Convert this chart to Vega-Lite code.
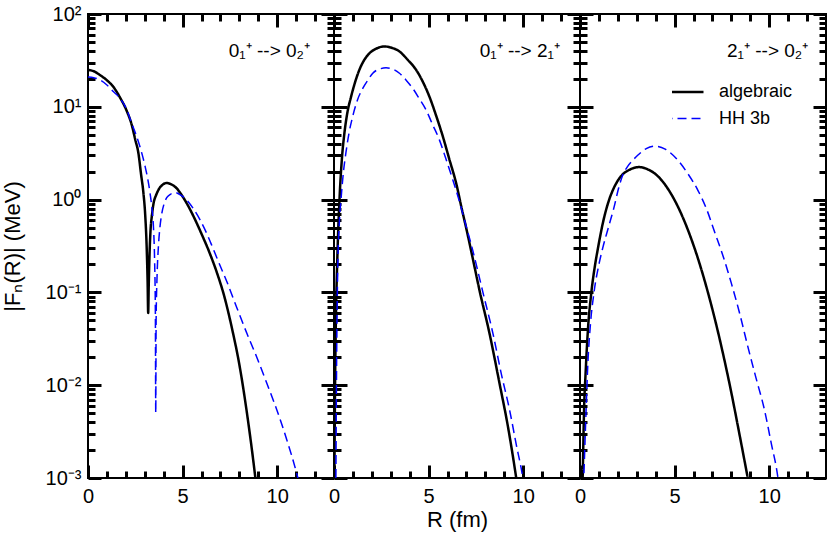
{
"$schema": "https://vega.github.io/schema/vega-lite/v6.json",
"padding": {"left": 0, "top": 3, "right": 2, "bottom": 5},
"background": "white",
"spacing": 0,
"bounds": "flush",
"config": {
  "view": {"stroke": "black", "strokeWidth": 2},
  "axis": {"grid": false, "domain": false, "labelColor": "black", "labelFont": "Liberation Sans", "labelFontSize": 20, "titleFont": "Liberation Sans", "titleFontSize": 22, "titleFontWeight": "normal", "titleColor": "black"},
  "legend": {"orient": "none", "legendX": 584, "legendY": 68, "symbolType": "M-2,0H2", "symbolSize": 400, "clipHeight": 20, "labelFont": "Liberation Sans", "labelFontSize": 18, "labelColor": "black", "rowPadding": 6.6, "labelOffset": 24, "padding": 0}
},
"datasets": {
  "p1": [
    {"s":"algebraic","R":0,"F":25},{"s":"algebraic","R":0.3,"F":24.2},{"s":"algebraic","R":0.63,"F":22},{"s":"algebraic","R":1.0,"F":19.3},{"s":"algebraic","R":1.34,"F":16.4},{"s":"algebraic","R":1.7,"F":12.5},{"s":"algebraic","R":2.05,"F":9.0},{"s":"algebraic","R":2.31,"F":6.4},{"s":"algebraic","R":2.5,"F":4.4},{"s":"algebraic","R":2.66,"F":3.2},{"s":"algebraic","R":2.8,"F":1.9},{"s":"algebraic","R":2.93,"F":1.17},{"s":"algebraic","R":3.02,"F":0.7},{"s":"algebraic","R":3.1,"F":0.31},{"s":"algebraic","R":3.15,"F":0.13},{"s":"algebraic","R":3.18,"F":0.06},{"s":"algebraic","R":3.21,"F":0.12},{"s":"algebraic","R":3.25,"F":0.25},{"s":"algebraic","R":3.3,"F":0.45},{"s":"algebraic","R":3.38,"F":0.68},{"s":"algebraic","R":3.46,"F":0.9},{"s":"algebraic","R":3.6,"F":1.12},{"s":"algebraic","R":3.72,"F":1.27},{"s":"algebraic","R":3.95,"F":1.45},{"s":"algebraic","R":4.15,"F":1.51},{"s":"algebraic","R":4.4,"F":1.46},{"s":"algebraic","R":4.69,"F":1.32},{"s":"algebraic","R":4.95,"F":1.12},{"s":"algebraic","R":5.22,"F":0.91},{"s":"algebraic","R":5.6,"F":0.645},{"s":"algebraic","R":6.0,"F":0.427},{"s":"algebraic","R":6.4,"F":0.275},{"s":"algebraic","R":6.8,"F":0.166},{"s":"algebraic","R":7.2,"F":0.091},{"s":"algebraic","R":7.6,"F":0.0417},{"s":"algebraic","R":8.0,"F":0.0166},{"s":"algebraic","R":8.4,"F":0.005},{"s":"algebraic","R":8.84,"F":0.00102},{"s":"algebraic","R":8.9,"F":0.0008},
    {"s":"HH 3b","R":0,"F":21},{"s":"HH 3b","R":0.3,"F":20.6},{"s":"HH 3b","R":0.63,"F":19.5},{"s":"HH 3b","R":1.0,"F":17.2},{"s":"HH 3b","R":1.34,"F":14.6},{"s":"HH 3b","R":1.7,"F":12.3},{"s":"HH 3b","R":2.05,"F":9.3},{"s":"HH 3b","R":2.3,"F":6.7},{"s":"HH 3b","R":2.57,"F":4.8},{"s":"HH 3b","R":2.8,"F":3.4},{"s":"HH 3b","R":3.02,"F":2.27},{"s":"HH 3b","R":3.15,"F":1.7},{"s":"HH 3b","R":3.28,"F":1.17},{"s":"HH 3b","R":3.38,"F":0.8},{"s":"HH 3b","R":3.46,"F":0.5},{"s":"HH 3b","R":3.52,"F":0.22},{"s":"HH 3b","R":3.56,"F":0.06},{"s":"HH 3b","R":3.58,"F":0.005},{"s":"HH 3b","R":3.6,"F":0.05},{"s":"HH 3b","R":3.65,"F":0.15},{"s":"HH 3b","R":3.72,"F":0.31},{"s":"HH 3b","R":3.8,"F":0.5},{"s":"HH 3b","R":3.9,"F":0.71},{"s":"HH 3b","R":4.02,"F":0.9},{"s":"HH 3b","R":4.16,"F":1.05},{"s":"HH 3b","R":4.35,"F":1.14},{"s":"HH 3b","R":4.6,"F":1.19},{"s":"HH 3b","R":4.9,"F":1.12},{"s":"HH 3b","R":5.22,"F":0.99},{"s":"HH 3b","R":5.6,"F":0.78},{"s":"HH 3b","R":5.93,"F":0.6},{"s":"HH 3b","R":6.3,"F":0.42},{"s":"HH 3b","R":6.63,"F":0.29},{"s":"HH 3b","R":7.0,"F":0.19},{"s":"HH 3b","R":7.34,"F":0.13},{"s":"HH 3b","R":7.87,"F":0.068},{"s":"HH 3b","R":8.4,"F":0.036},{"s":"HH 3b","R":8.92,"F":0.02},{"s":"HH 3b","R":9.45,"F":0.0105},{"s":"HH 3b","R":9.98,"F":0.0054},{"s":"HH 3b","R":10.5,"F":0.0026},{"s":"HH 3b","R":11.04,"F":0.0011},{"s":"HH 3b","R":11.15,"F":0.0009}
  ],
  "p2": [
    {"s":"algebraic","R":0.02,"F":0.001},{"s":"algebraic","R":0.06,"F":0.012},{"s":"algebraic","R":0.1,"F":0.05},{"s":"algebraic","R":0.18,"F":0.25},{"s":"algebraic","R":0.3,"F":1.1},{"s":"algebraic","R":0.42,"F":2.8},{"s":"algebraic","R":0.55,"F":5.2},{"s":"algebraic","R":0.7,"F":8.5},{"s":"algebraic","R":0.9,"F":12.8},{"s":"algebraic","R":1.1,"F":18},{"s":"algebraic","R":1.34,"F":25},{"s":"algebraic","R":1.6,"F":32},{"s":"algebraic","R":1.87,"F":37.7},{"s":"algebraic","R":2.2,"F":42},{"s":"algebraic","R":2.66,"F":44.7},{"s":"algebraic","R":3.0,"F":43.5},{"s":"algebraic","R":3.46,"F":39.5},{"s":"algebraic","R":3.9,"F":32},{"s":"algebraic","R":4.34,"F":25},{"s":"algebraic","R":4.7,"F":18.5},{"s":"algebraic","R":5.04,"F":12.9},{"s":"algebraic","R":5.4,"F":8},{"s":"algebraic","R":5.75,"F":4.8},{"s":"algebraic","R":6.1,"F":2.7},{"s":"algebraic","R":6.46,"F":1.49},{"s":"algebraic","R":6.75,"F":0.8},{"s":"algebraic","R":6.98,"F":0.5},{"s":"algebraic","R":7.3,"F":0.25},{"s":"algebraic","R":7.69,"F":0.105},{"s":"algebraic","R":8.22,"F":0.036},{"s":"algebraic","R":8.75,"F":0.0104},{"s":"algebraic","R":9.19,"F":0.0036},{"s":"algebraic","R":9.63,"F":0.001},{"s":"algebraic","R":9.7,"F":0.0008},
    {"s":"HH 3b","R":0.1,"F":0.001},{"s":"HH 3b","R":0.14,"F":0.02},{"s":"HH 3b","R":0.19,"F":0.15},{"s":"HH 3b","R":0.28,"F":0.55},{"s":"HH 3b","R":0.37,"F":1.0},{"s":"HH 3b","R":0.5,"F":2.0},{"s":"HH 3b","R":0.63,"F":3.2},{"s":"HH 3b","R":0.8,"F":5.3},{"s":"HH 3b","R":0.99,"F":7.9},{"s":"HH 3b","R":1.25,"F":12},{"s":"HH 3b","R":1.52,"F":15.8},{"s":"HH 3b","R":1.8,"F":19.5},{"s":"HH 3b","R":2.05,"F":23},{"s":"HH 3b","R":2.4,"F":25.5},{"s":"HH 3b","R":2.75,"F":26.3},{"s":"HH 3b","R":3.1,"F":25.5},{"s":"HH 3b","R":3.46,"F":23},{"s":"HH 3b","R":3.8,"F":19.5},{"s":"HH 3b","R":4.16,"F":15.8},{"s":"HH 3b","R":4.5,"F":12.3},{"s":"HH 3b","R":4.87,"F":9.2},{"s":"HH 3b","R":5.2,"F":6.5},{"s":"HH 3b","R":5.57,"F":4.4},{"s":"HH 3b","R":5.9,"F":2.8},{"s":"HH 3b","R":6.28,"F":1.63},{"s":"HH 3b","R":6.6,"F":1.0},{"s":"HH 3b","R":6.98,"F":0.52},{"s":"HH 3b","R":7.34,"F":0.28},{"s":"HH 3b","R":7.6,"F":0.17},{"s":"HH 3b","R":7.87,"F":0.1},{"s":"HH 3b","R":8.4,"F":0.036},{"s":"HH 3b","R":8.85,"F":0.013},{"s":"HH 3b","R":9.28,"F":0.0054},{"s":"HH 3b","R":9.63,"F":0.0023},{"s":"HH 3b","R":9.98,"F":0.001},{"s":"HH 3b","R":10.05,"F":0.0008}
  ],
  "p3": [
    {"s":"algebraic","R":0.12,"F":0.0008},{"s":"algebraic","R":0.14,"F":0.001},{"s":"algebraic","R":0.17,"F":0.002},{"s":"algebraic","R":0.21,"F":0.005},{"s":"algebraic","R":0.3,"F":0.014},{"s":"algebraic","R":0.42,"F":0.04},{"s":"algebraic","R":0.6,"F":0.1},{"s":"algebraic","R":0.8,"F":0.2},{"s":"algebraic","R":0.95,"F":0.3},{"s":"algebraic","R":1.2,"F":0.55},{"s":"algebraic","R":1.47,"F":0.9},{"s":"algebraic","R":1.8,"F":1.35},{"s":"algebraic","R":2.17,"F":1.79},{"s":"algebraic","R":2.6,"F":2.09},{"s":"algebraic","R":3.14,"F":2.24},{"s":"algebraic","R":3.6,"F":2.11},{"s":"algebraic","R":4.11,"F":1.79},{"s":"algebraic","R":4.6,"F":1.35},{"s":"algebraic","R":5.17,"F":0.843},{"s":"algebraic","R":5.7,"F":0.473},{"s":"algebraic","R":6.23,"F":0.233},{"s":"algebraic","R":6.76,"F":0.1},{"s":"algebraic","R":7.15,"F":0.0494},{"s":"algebraic","R":7.55,"F":0.0222},{"s":"algebraic","R":8.0,"F":0.00826},{"s":"algebraic","R":8.4,"F":0.00316},{"s":"algebraic","R":8.9,"F":0.00092},
    {"s":"HH 3b","R":0.18,"F":0.0008},{"s":"HH 3b","R":0.2,"F":0.001},{"s":"HH 3b","R":0.25,"F":0.002},{"s":"HH 3b","R":0.3,"F":0.004},{"s":"HH 3b","R":0.42,"F":0.018},{"s":"HH 3b","R":0.55,"F":0.045},{"s":"HH 3b","R":0.74,"F":0.1},{"s":"HH 3b","R":1.0,"F":0.2},{"s":"HH 3b","R":1.2,"F":0.3},{"s":"HH 3b","R":1.5,"F":0.5},{"s":"HH 3b","R":1.78,"F":0.8},{"s":"HH 3b","R":2.05,"F":1.35},{"s":"HH 3b","R":2.26,"F":1.84},{"s":"HH 3b","R":2.5,"F":2.25},{"s":"HH 3b","R":2.75,"F":2.6},{"s":"HH 3b","R":3.05,"F":3.0},{"s":"HH 3b","R":3.5,"F":3.55},{"s":"HH 3b","R":3.93,"F":3.77},{"s":"HH 3b","R":4.5,"F":3.5},{"s":"HH 3b","R":5.17,"F":2.66},{"s":"HH 3b","R":5.7,"F":1.9},{"s":"HH 3b","R":6.23,"F":1.26},{"s":"HH 3b","R":6.7,"F":0.78},{"s":"HH 3b","R":7.11,"F":0.45},{"s":"HH 3b","R":7.55,"F":0.25},{"s":"HH 3b","R":8.0,"F":0.125},{"s":"HH 3b","R":8.45,"F":0.058},{"s":"HH 3b","R":8.87,"F":0.026},{"s":"HH 3b","R":9.3,"F":0.012},{"s":"HH 3b","R":9.75,"F":0.0054},{"s":"HH 3b","R":10.1,"F":0.0024},{"s":"HH 3b","R":10.46,"F":0.001},{"s":"HH 3b","R":10.52,"F":0.0008}
  ],
  "a1": [{"x": 11.73, "y": 34.4, "t": "0₁⁺ --> 0₂⁺"}],
  "a2": [{"x": 11.94, "y": 34.4, "t": "0₁⁺ --> 2₁⁺"}],
  "a3": [{"x": 12.06, "y": 34.4, "t": "2₁⁺ --> 0₂⁺"}]
},
"hconcat": [
  {
    "width": 246, "height": 464,
    "layer": [
      {
        "data": {"name": "p1"},
        "mark": {"type": "line", "clip": true, "interpolate": "monotone"},
        "encoding": {
          "x": {"field": "R", "type": "quantitative", "scale": {"domain": [0, 13], "nice": false, "zero": false},
                "axis": {"orient": "bottom", "title": null, "values": [0, 5, 10], "offset": -13, "ticks": true, "tickSize": 13, "tickColor": "black", "tickWidth": 3, "labelPadding": 8, "labelFlush": false}},
          "y": {"field": "F", "type": "quantitative", "scale": {"type": "log", "domain": [0.001, 100], "nice": false},
                "axis": {"orient": "left", "title": "|Fₙ(R)| (MeV)", "titlePadding": 21, "values": [0.001, 0.01, 0.1, 1, 10, 100],
                         "labelExpr": "datum.value == 100 ? '10²' : datum.value == 10 ? '10¹' : datum.value == 1 ? '10⁰' : datum.value == 0.1 ? '10⁻¹' : datum.value == 0.01 ? '10⁻²' : '10⁻³'",
                         "offset": -13, "ticks": true, "tickSize": 13, "tickColor": "black", "tickWidth": 3, "labelPadding": 7, "labelFlush": false}},
          "color": {"field": "s", "type": "nominal", "title": null, "scale": {"domain": ["algebraic", "HH 3b"], "range": ["#000000", "#0000ff"]}},
          "strokeDash": {"field": "s", "type": "nominal", "title": null, "scale": {"domain": ["algebraic", "HH 3b"], "range": [[1, 0], [9, 5]]}},
          "strokeWidth": {"field": "s", "type": "nominal", "title": null, "scale": {"domain": ["algebraic", "HH 3b"], "range": [2.5, 1.5]}}
        }
      },
      {
        "data": {"name": "a1"},
        "mark": {"type": "text", "align": "right", "baseline": "alphabetic", "fontSize": 19, "font": "Liberation Sans", "color": "black"},
        "encoding": {
          "x": {"field": "x", "type": "quantitative", "scale": {"domain": [0, 13], "nice": false, "zero": false},
                "axis": {"orient": "top", "title": null, "labels": false, "values": [0, 5, 10], "offset": -13, "ticks": true, "tickSize": 13, "tickColor": "black", "tickWidth": 3}},
          "y": {"field": "y", "type": "quantitative", "scale": {"type": "log", "domain": [0.001, 100], "nice": false},
                "axis": {"orient": "right", "title": null, "labels": false, "values": [0.001, 0.01, 0.1, 1, 10, 100], "offset": -13, "ticks": true, "tickSize": 13, "tickColor": "black", "tickWidth": 3}},
          "text": {"field": "t"}
        }
      },
      {
        "data": {"name": "a1"},
        "mark": {"type": "text", "text": "", "opacity": 0},
        "encoding": {
          "x": {"field": "x", "type": "quantitative", "scale": {"domain": [0, 13], "nice": false, "zero": false},
                "axis": {"orient": "bottom", "title": null, "labels": false, "values": [1,2,3,4,6,7,8,9,11,12], "offset": -7, "ticks": true, "tickSize": 7, "tickColor": "black", "tickWidth": 3}},
          "y": {"field": "y", "type": "quantitative", "scale": {"type": "log", "domain": [0.001, 100], "nice": false},
                "axis": {"orient": "left", "title": null, "labels": false, "values": [0.002,0.003,0.004,0.005,0.006,0.007,0.008,0.009,0.02,0.03,0.04,0.05,0.06,0.07,0.08,0.09,0.2,0.3,0.4,0.5,0.6,0.7,0.8,0.9,2,3,4,5,6,7,8,9,20,30,40,50,60,70,80,90], "offset": -7, "ticks": true, "tickSize": 7, "tickColor": "black", "tickWidth": 3}}
        }
      },
      {
        "data": {"name": "a1"},
        "mark": {"type": "text", "text": "", "opacity": 0},
        "encoding": {
          "x": {"field": "x", "type": "quantitative", "scale": {"domain": [0, 13], "nice": false, "zero": false},
                "axis": {"orient": "top", "title": null, "labels": false, "values": [1,2,3,4,6,7,8,9,11,12], "offset": -7, "ticks": true, "tickSize": 7, "tickColor": "black", "tickWidth": 3}},
          "y": {"field": "y", "type": "quantitative", "scale": {"type": "log", "domain": [0.001, 100], "nice": false},
                "axis": {"orient": "right", "title": null, "labels": false, "values": [0.002,0.003,0.004,0.005,0.006,0.007,0.008,0.009,0.02,0.03,0.04,0.05,0.06,0.07,0.08,0.09,0.2,0.3,0.4,0.5,0.6,0.7,0.8,0.9,2,3,4,5,6,7,8,9,20,30,40,50,60,70,80,90], "offset": -7, "ticks": true, "tickSize": 7, "tickColor": "black", "tickWidth": 3}}
        }
      }
    ],
    "resolve": {"axis": {"x": "independent", "y": "independent"}}
  },
  {
    "width": 246, "height": 464,
    "layer": [
      {
        "data": {"name": "p2"},
        "mark": {"type": "line", "clip": true, "interpolate": "monotone"},
        "encoding": {
          "x": {"field": "R", "type": "quantitative", "scale": {"domain": [0, 13], "nice": false, "zero": false},
                "axis": {"orient": "bottom", "title": "R (fm)", "titlePadding": 3, "values": [0, 5, 10], "offset": -13, "ticks": true, "tickSize": 13, "tickColor": "black", "tickWidth": 3, "labelPadding": 8, "labelFlush": false}},
          "y": {"field": "F", "type": "quantitative", "scale": {"type": "log", "domain": [0.001, 100], "nice": false},
                "axis": {"orient": "left", "title": null, "labels": false, "values": [0.001, 0.01, 0.1, 1, 10, 100], "offset": -13, "ticks": true, "tickSize": 13, "tickColor": "black", "tickWidth": 3}},
          "color": {"field": "s", "type": "nominal", "title": null, "scale": {"domain": ["algebraic", "HH 3b"], "range": ["#000000", "#0000ff"]}},
          "strokeDash": {"field": "s", "type": "nominal", "title": null, "scale": {"domain": ["algebraic", "HH 3b"], "range": [[1, 0], [9, 5]]}},
          "strokeWidth": {"field": "s", "type": "nominal", "title": null, "scale": {"domain": ["algebraic", "HH 3b"], "range": [2.5, 1.5]}}
        }
      },
      {
        "data": {"name": "a2"},
        "mark": {"type": "text", "align": "right", "baseline": "alphabetic", "fontSize": 19, "font": "Liberation Sans", "color": "black"},
        "encoding": {
          "x": {"field": "x", "type": "quantitative", "scale": {"domain": [0, 13], "nice": false, "zero": false},
                "axis": {"orient": "top", "title": null, "labels": false, "values": [0, 5, 10], "offset": -13, "ticks": true, "tickSize": 13, "tickColor": "black", "tickWidth": 3}},
          "y": {"field": "y", "type": "quantitative", "scale": {"type": "log", "domain": [0.001, 100], "nice": false},
                "axis": {"orient": "right", "title": null, "labels": false, "values": [0.001, 0.01, 0.1, 1, 10, 100], "offset": -13, "ticks": true, "tickSize": 13, "tickColor": "black", "tickWidth": 3}},
          "text": {"field": "t"}
        }
      },
      {
        "data": {"name": "a2"},
        "mark": {"type": "text", "text": "", "opacity": 0},
        "encoding": {
          "x": {"field": "x", "type": "quantitative", "scale": {"domain": [0, 13], "nice": false, "zero": false},
                "axis": {"orient": "bottom", "title": null, "labels": false, "values": [1,2,3,4,6,7,8,9,11,12], "offset": -7, "ticks": true, "tickSize": 7, "tickColor": "black", "tickWidth": 3}},
          "y": {"field": "y", "type": "quantitative", "scale": {"type": "log", "domain": [0.001, 100], "nice": false},
                "axis": {"orient": "left", "title": null, "labels": false, "values": [0.002,0.003,0.004,0.005,0.006,0.007,0.008,0.009,0.02,0.03,0.04,0.05,0.06,0.07,0.08,0.09,0.2,0.3,0.4,0.5,0.6,0.7,0.8,0.9,2,3,4,5,6,7,8,9,20,30,40,50,60,70,80,90], "offset": -7, "ticks": true, "tickSize": 7, "tickColor": "black", "tickWidth": 3}}
        }
      },
      {
        "data": {"name": "a2"},
        "mark": {"type": "text", "text": "", "opacity": 0},
        "encoding": {
          "x": {"field": "x", "type": "quantitative", "scale": {"domain": [0, 13], "nice": false, "zero": false},
                "axis": {"orient": "top", "title": null, "labels": false, "values": [1,2,3,4,6,7,8,9,11,12], "offset": -7, "ticks": true, "tickSize": 7, "tickColor": "black", "tickWidth": 3}},
          "y": {"field": "y", "type": "quantitative", "scale": {"type": "log", "domain": [0.001, 100], "nice": false},
                "axis": {"orient": "right", "title": null, "labels": false, "values": [0.002,0.003,0.004,0.005,0.006,0.007,0.008,0.009,0.02,0.03,0.04,0.05,0.06,0.07,0.08,0.09,0.2,0.3,0.4,0.5,0.6,0.7,0.8,0.9,2,3,4,5,6,7,8,9,20,30,40,50,60,70,80,90], "offset": -7, "ticks": true, "tickSize": 7, "tickColor": "black", "tickWidth": 3}}
        }
      }
    ],
    "resolve": {"axis": {"x": "independent", "y": "independent"}}
  },
  {
    "width": 246, "height": 464,
    "layer": [
      {
        "data": {"name": "p3"},
        "mark": {"type": "line", "clip": true, "interpolate": "monotone"},
        "encoding": {
          "x": {"field": "R", "type": "quantitative", "scale": {"domain": [0, 13], "nice": false, "zero": false},
                "axis": {"orient": "bottom", "title": null, "values": [0, 5, 10], "offset": -13, "ticks": true, "tickSize": 13, "tickColor": "black", "tickWidth": 3, "labelPadding": 8, "labelFlush": false}},
          "y": {"field": "F", "type": "quantitative", "scale": {"type": "log", "domain": [0.001, 100], "nice": false},
                "axis": {"orient": "left", "title": null, "labels": false, "values": [0.001, 0.01, 0.1, 1, 10, 100], "offset": -13, "ticks": true, "tickSize": 13, "tickColor": "black", "tickWidth": 3}},
          "color": {"field": "s", "type": "nominal", "title": null, "scale": {"domain": ["algebraic", "HH 3b"], "range": ["#000000", "#0000ff"]}},
          "strokeDash": {"field": "s", "type": "nominal", "title": null, "scale": {"domain": ["algebraic", "HH 3b"], "range": [[1, 0], [9, 5]]}},
          "strokeWidth": {"field": "s", "type": "nominal", "title": null, "scale": {"domain": ["algebraic", "HH 3b"], "range": [2.5, 1.5]}}
        }
      },
      {
        "data": {"name": "a3"},
        "mark": {"type": "text", "align": "right", "baseline": "alphabetic", "fontSize": 19, "font": "Liberation Sans", "color": "black"},
        "encoding": {
          "x": {"field": "x", "type": "quantitative", "scale": {"domain": [0, 13], "nice": false, "zero": false},
                "axis": {"orient": "top", "title": null, "labels": false, "values": [0, 5, 10], "offset": -13, "ticks": true, "tickSize": 13, "tickColor": "black", "tickWidth": 3}},
          "y": {"field": "y", "type": "quantitative", "scale": {"type": "log", "domain": [0.001, 100], "nice": false},
                "axis": {"orient": "right", "title": null, "labels": false, "values": [0.001, 0.01, 0.1, 1, 10, 100], "offset": -13, "ticks": true, "tickSize": 13, "tickColor": "black", "tickWidth": 3}},
          "text": {"field": "t"}
        }
      },
      {
        "data": {"name": "a3"},
        "mark": {"type": "text", "text": "", "opacity": 0},
        "encoding": {
          "x": {"field": "x", "type": "quantitative", "scale": {"domain": [0, 13], "nice": false, "zero": false},
                "axis": {"orient": "bottom", "title": null, "labels": false, "values": [1,2,3,4,6,7,8,9,11,12], "offset": -7, "ticks": true, "tickSize": 7, "tickColor": "black", "tickWidth": 3}},
          "y": {"field": "y", "type": "quantitative", "scale": {"type": "log", "domain": [0.001, 100], "nice": false},
                "axis": {"orient": "left", "title": null, "labels": false, "values": [0.002,0.003,0.004,0.005,0.006,0.007,0.008,0.009,0.02,0.03,0.04,0.05,0.06,0.07,0.08,0.09,0.2,0.3,0.4,0.5,0.6,0.7,0.8,0.9,2,3,4,5,6,7,8,9,20,30,40,50,60,70,80,90], "offset": -7, "ticks": true, "tickSize": 7, "tickColor": "black", "tickWidth": 3}}
        }
      },
      {
        "data": {"name": "a3"},
        "mark": {"type": "text", "text": "", "opacity": 0},
        "encoding": {
          "x": {"field": "x", "type": "quantitative", "scale": {"domain": [0, 13], "nice": false, "zero": false},
                "axis": {"orient": "top", "title": null, "labels": false, "values": [1,2,3,4,6,7,8,9,11,12], "offset": -7, "ticks": true, "tickSize": 7, "tickColor": "black", "tickWidth": 3}},
          "y": {"field": "y", "type": "quantitative", "scale": {"type": "log", "domain": [0.001, 100], "nice": false},
                "axis": {"orient": "right", "title": null, "labels": false, "values": [0.002,0.003,0.004,0.005,0.006,0.007,0.008,0.009,0.02,0.03,0.04,0.05,0.06,0.07,0.08,0.09,0.2,0.3,0.4,0.5,0.6,0.7,0.8,0.9,2,3,4,5,6,7,8,9,20,30,40,50,60,70,80,90], "offset": -7, "ticks": true, "tickSize": 7, "tickColor": "black", "tickWidth": 3}}
        }
      }
    ],
    "resolve": {"axis": {"x": "independent", "y": "independent"}}
  }
],
"resolve": {"scale": {"color": "shared", "strokeDash": "shared", "strokeWidth": "shared"}}
}
